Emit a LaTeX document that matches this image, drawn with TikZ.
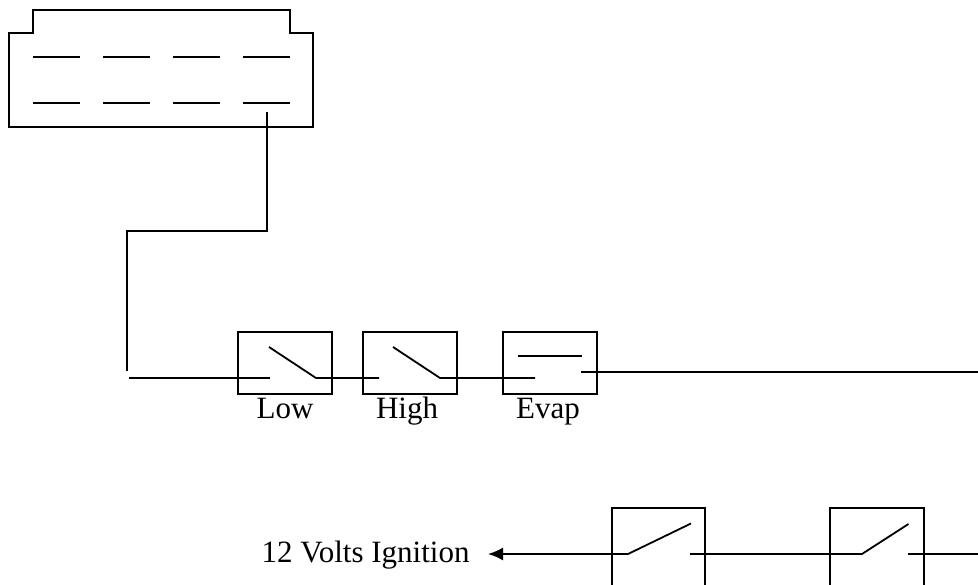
\documentclass[tikz,border=0pt]{standalone}
\usepackage{fontspec}
\setmainfont{Liberation Serif}
\usetikzlibrary{arrows.meta}
\tikzset{
  wire/.style={line width=1.8pt,line cap=butt,line join=miter},
  pin/.style={line width=1.7pt},
  swbox/.style={draw,line width=1.8pt,minimum width=94pt,minimum height=62pt,inner sep=0pt,outer sep=0pt,anchor=north west},
  lbl/.style={font=\fontsize{31}{37}\selectfont,inner sep=0pt,anchor=base},
}
\begin{document}
\begin{tikzpicture}[x=1pt,y=-1pt]
\useasboundingbox (0,0) rectangle (978,585);
% connector housing
\draw[wire] (9,33) -- (33,33) -- (33,10) -- (290,10) -- (290,33) -- (313,33) -- (313,127) -- (9,127) -- cycle;
\foreach \px in {33,103,173,243}{
  \draw[pin] (\px,57) -- ++(47,0);
  \draw[pin] (\px,103) -- ++(47,0);
}
% wire from connector
\coordinate (c1) at (267,112);
\coordinate (c2) at (127,371);
\draw[wire] (c1) -- (267,231) -- (127,231) -- (c2);
% switch boxes
\node[swbox] (low) at (238,332) {};
\node[swbox] (high) at (363,332) {};
\node[swbox] (evap) at (503,332) {};
\node[lbl] (lowl) at (285,418) {Low};
\node[lbl] (highl) at (407,418) {High};
\node[lbl] (evapl) at (548,418) {Evap};
% contacts
\coordinate (s0) at (129,378);
\coordinate (l1) at (270,378);
\coordinate (l2) at (269,347);
\coordinate (l3) at (316,378);
\coordinate (h1) at (379,378);
\coordinate (h2) at (393,347);
\coordinate (h3) at (440,378);
\coordinate (e1) at (535,378);
\coordinate (e2) at (518,356);
\coordinate (e3) at (582,356);
\coordinate (e4) at (581,372);
\coordinate (eend) at (978,372);
\draw[wire] (s0) -- (l1);
\draw[wire] (l2) -- (l3) -- (h1);
\draw[wire] (h2) -- (h3) -- (e1);
\draw[wire] (e2) -- (e3);
\draw[wire] (e4) -- (eend);
% lower switches
\coordinate (a0) at (612,585);
\coordinate (b0) at (830,585);
\draw[wire] (a0) -- (612,508) -- (705,508) -- (705,585);
\draw[wire] (b0) -- (830,508) -- (924,508) -- (924,585);
\node[lbl,anchor=base west] (ign) at (261.5,562) {12 Volts Ignition};
\coordinate (tip) at (488,554);
\coordinate (p1) at (628,554);
\coordinate (p2) at (691,523.5);
\coordinate (p3) at (690,554);
\coordinate (q1) at (862,554);
\coordinate (q2) at (908.5,524);
\coordinate (q3) at (907.5,554);
\coordinate (qend) at (978,554);
\draw[wire,-{Latex[length=15pt,width=13pt]}] (p1) -- (tip);
\draw[wire] (p1) -- (p2);
\draw[wire] (p3) -- (q1) -- (q2);
\draw[wire] (q3) -- (qend);
\end{tikzpicture}
\end{document}
